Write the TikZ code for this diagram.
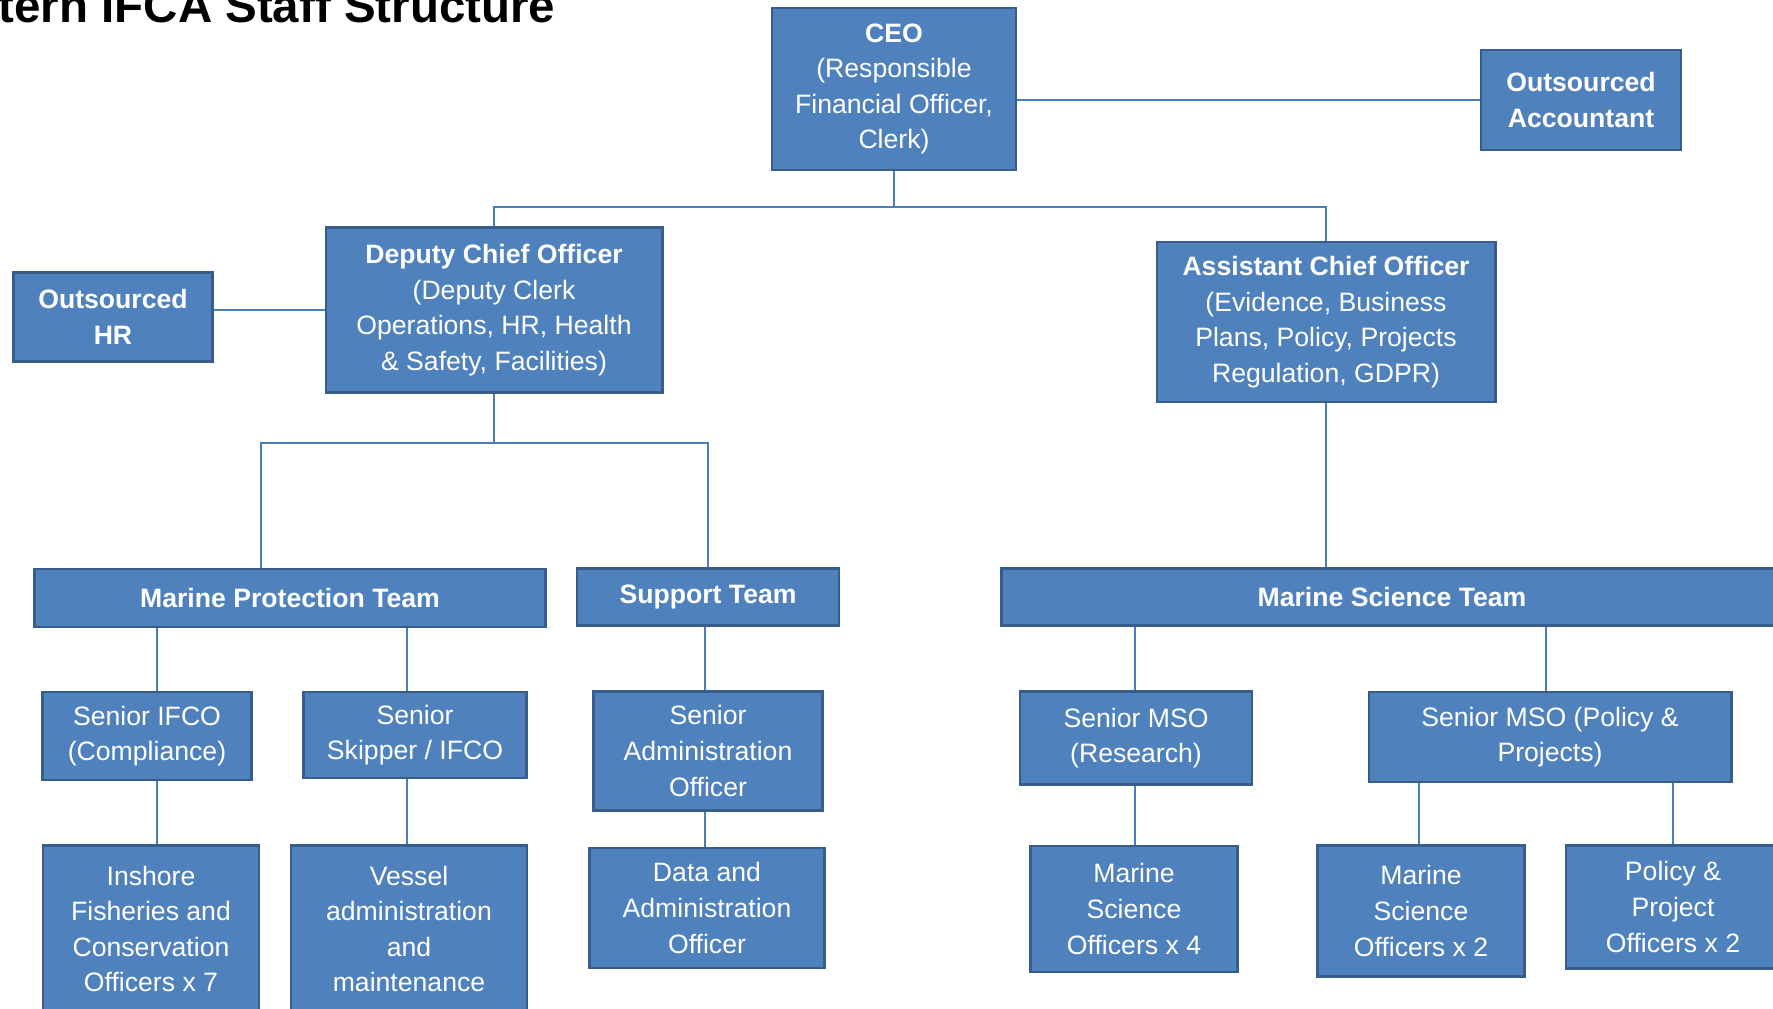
\documentclass[tikz,border=0pt]{standalone}
\usepackage{fontspec}
\setmainfont{Liberation Sans}
\definecolor{boxblue}{HTML}{4F81BD}
\definecolor{boxedge}{HTML}{385D8A}
\definecolor{linkblue}{HTML}{4A7EBB}
\tikzset{
	orgbox/.style={draw=boxedge,fill=boxblue,line width=0.8pt,text=white,align=center,inner sep=0pt,
		font=\fontsize{7.57pt}{10.13pt}\selectfont},
	link/.style={draw=linkblue,line width=0.6pt}
}
\begin{document}
\begin{tikzpicture}[x=0.01cm,y=-0.01cm]
	\useasboundingbox (0,0) rectangle (1773,1008);
	\clip (0,0) rectangle (1773,1008);

	\node[anchor=base west,inner sep=0pt,font=\fontsize{13.5pt}{16pt}\selectfont\bfseries] (title) at (-2,22) {tern IFCA Staff Structure};

	% top level
	\node[orgbox,minimum width=2.44cm,minimum height=1.62cm] (ceo) at (894,89) {\textbf{CEO}\\(Responsible\\Financial Officer,\\Clerk)};
	\node[orgbox,minimum width=2.00cm,minimum height=1.00cm] (acct) at (1581,100) {\textbf{Outsourced}\\\textbf{Accountant}};
	\node[orgbox,minimum width=1.99cm,minimum height=0.89cm] (hr) at (113,317) {\textbf{Outsourced}\\\textbf{HR}};
	\node[orgbox,minimum width=3.36cm,minimum height=1.65cm] (dco) at (494,310) {\textbf{Deputy Chief Officer}\\(Deputy Clerk\\Operations, HR, Health\\\& Safety, Facilities)};
	\node[orgbox,minimum width=3.38cm,minimum height=1.60cm] (aco) at (1326,322) {\textbf{Assistant Chief Officer}\\(Evidence, Business\\Plans, Policy, Projects\\Regulation, GDPR)};

	% teams
	\node[orgbox,minimum width=5.10cm,minimum height=0.58cm] (mpt) at (290,598) {\textbf{Marine Protection Team}};
	\node[orgbox,minimum width=2.62cm,minimum height=0.57cm] (sup) at (708,597) {\textbf{Support Team}};
	\node[orgbox,minimum width=7.80cm,minimum height=0.57cm] (mst) at (1392,597) {\textbf{Marine Science Team}};

	% senior staff
	\node[orgbox,minimum width=2.09cm,minimum height=0.88cm] (sifco) at (147,736) {Senior IFCO\\(Compliance)};
	\node[orgbox,minimum width=2.23cm,minimum height=0.86cm] (sskip) at (415,735) {Senior\\Skipper / IFCO};
	\node[orgbox,minimum width=2.29cm,minimum height=1.19cm] (sadm) at (708,751) {Senior\\Administration\\Officer};
	\node[orgbox,minimum width=2.32cm,minimum height=0.93cm] (smsor) at (1136,738) {Senior MSO\\(Research)};
	\node[orgbox,minimum width=3.62cm,minimum height=0.90cm] (smsop) at (1550,737) {Senior MSO (Policy \&\\Projects)};

	% officers
	\node[orgbox,minimum width=2.16cm,minimum height=1.67cm] (insh) at (151,929) {Inshore\\Fisheries and\\Conservation\\Officers x 7};
	\node[orgbox,minimum width=2.36cm,minimum height=1.67cm] (vessel) at (409,929) {Vessel\\administration\\and\\maintenance};
	\node[orgbox,minimum width=2.35cm,minimum height=1.20cm] (data) at (707,908) {Data and\\Administration\\Officer};
	\node[orgbox,minimum width=2.07cm,minimum height=1.26cm] (mso4) at (1134,909) {Marine\\Science\\Officers x 4};
	\node[orgbox,minimum width=2.07cm,minimum height=1.31cm] (mso2) at (1421,911) {Marine\\Science\\Officers x 2};
	\node[orgbox,minimum width=2.14cm,minimum height=1.23cm] (ppo) at (1673,907) {Policy \&\\Project\\Officers x 2};

	% connectors
	\coordinate (topbar) at (894,207);
	\coordinate (midbar) at (261,443);
	\draw[link] (ceo.east |- acct.west) -- (acct.west);
	\draw[link] (ceo.south) -- (topbar);
	\draw[link] (dco.north) |- (topbar) -| (aco.north);
	\draw[link] (hr.east |- dco.west) -- (dco.west);
	\draw[link] (dco.south) -- (dco.south |- midbar);
	\draw[link] (mpt.north -| midbar) |- (sup.north |- midbar) -- (sup.north);
	\draw[link] (aco.south) -- (aco.south |- mst.north);

	\coordinate (c1) at (157,0);
	\coordinate (c2) at (407,0);
	\coordinate (c3) at (705,0);
	\coordinate (c4) at (1135,0);
	\coordinate (c5) at (1546,0);
	\coordinate (c6) at (1419,0);
	\coordinate (c7) at (1673,0);
	\foreach \col/\a/\b in {c1/mpt/sifco,c1/sifco/insh,c2/mpt/sskip,c2/sskip/vessel,c3/sup/sadm,c3/sadm/data,
		c4/mst/smsor,c4/smsor/mso4,c5/mst/smsop,c6/smsop/mso2,c7/smsop/ppo}
		\draw[link] (\a.south -| \col) -- (\b.north -| \col);
\end{tikzpicture}
\end{document}
